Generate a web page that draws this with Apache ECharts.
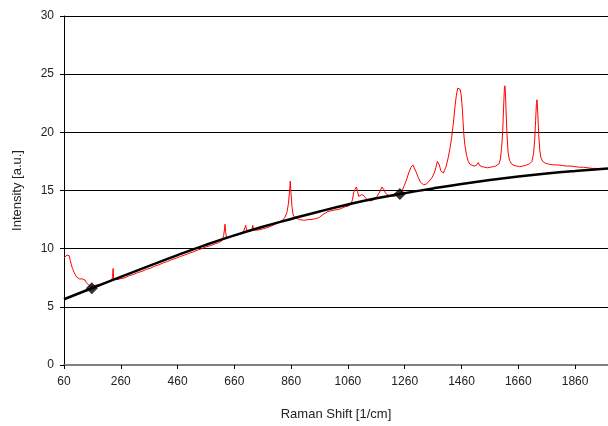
<!DOCTYPE html>
<html>
<head>
<meta charset="utf-8">
<script src="https://cdn.jsdelivr.net/npm/echarts@6/dist/echarts.min.js"></script>
<style>
  html, body { margin: 0; padding: 0; background: #fff; }
  #main { width: 608px; height: 426px; }
</style>
</head>
<body>
<div id="main"></div>
<script type="text/javascript">
// measured spectrum (red)
var spectrumX = [60, 63, 66, 70, 74, 78, 82, 86, 90, 95, 100, 105, 110, 115, 120, 125, 130, 134, 138, 143, 148, 153, 158, 164, 170, 180, 190, 200, 210, 220, 228, 231, 233, 235, 240, 250, 260, 275, 290, 305, 320, 335, 350, 365, 380, 395, 410, 425, 440, 455, 470, 485, 500, 515, 530, 545, 560, 575, 590, 605, 616, 622, 625, 627, 629, 632, 640, 650, 660, 670, 680, 690, 697, 700, 703, 710, 718, 722, 725, 728, 735, 745, 760, 775, 790, 805, 820, 830, 838, 845, 850, 854, 857, 860, 863, 867, 872, 880, 890, 900, 910, 920, 930, 940, 950, 960, 970, 980, 990, 1000, 1010, 1020, 1030, 1040, 1050, 1060, 1070, 1076, 1080, 1085, 1090, 1094, 1098, 1104, 1110, 1114, 1118, 1124, 1132, 1140, 1150, 1160, 1168, 1174, 1180, 1186, 1192, 1200, 1210, 1220, 1230, 1243, 1250, 1258, 1266, 1274, 1282, 1289, 1294, 1300, 1308, 1316, 1326, 1336, 1346, 1356, 1364, 1370, 1375, 1378, 1382, 1387, 1392, 1396, 1405, 1413, 1420, 1425, 1431, 1437, 1442, 1447, 1451, 1455, 1459, 1463, 1466, 1469, 1472, 1478, 1484, 1490, 1496, 1504, 1512, 1519, 1524, 1532, 1542, 1552, 1562, 1572, 1580, 1585, 1592, 1597, 1601, 1605, 1608, 1611, 1613, 1615, 1617, 1620, 1624, 1629, 1636, 1645, 1655, 1665, 1675, 1685, 1690, 1700, 1708, 1714, 1718, 1721, 1724, 1726, 1729, 1732, 1736, 1740, 1746, 1755, 1770, 1785, 1800, 1815, 1830, 1845, 1860, 1875, 1890, 1905, 1920, 1935, 1950, 1965, 1976];
var spectrumY = [9.2, 9.1, 9.35, 9.45, 9.3, 9.4, 9.0, 8.6, 8.3, 8.0, 7.75, 7.55, 7.45, 7.4, 7.35, 7.4, 7.45, 7.3, 7.1, 6.95, 6.85, 6.8, 6.75, 6.8, 6.85, 6.9, 6.95, 7.0, 7.1, 7.2, 7.25, 7.6, 8.3, 7.35, 7.3, 7.35, 7.42, 7.5, 7.68, 7.78, 7.95, 8.05, 8.22, 8.33, 8.5, 8.62, 8.78, 8.9, 9.07, 9.18, 9.33, 9.45, 9.6, 9.72, 9.87, 10.0, 10.15, 10.25, 10.4, 10.52, 10.68, 11.1, 11.6, 12.1, 11.5, 11.0, 10.95, 11.05, 11.1, 11.2, 11.3, 11.35, 11.45, 12.0, 11.6, 11.45, 11.5, 11.7, 12.0, 11.6, 11.55, 11.6, 11.7, 11.8, 11.95, 12.1, 12.3, 12.45, 12.7, 13.1, 13.8, 14.8, 15.8, 14.6, 13.6, 12.9, 12.7, 12.6, 12.5, 12.45, 12.45, 12.5, 12.5, 12.55, 12.6, 12.7, 12.9, 13.05, 13.2, 13.25, 13.3, 13.35, 13.4, 13.5, 13.6, 13.65, 13.8, 14.2, 14.8, 15.1, 15.3, 14.9, 14.5, 14.4, 14.65, 14.7, 14.5, 14.3, 14.15, 14.1, 14.2, 14.4, 14.7, 15.0, 15.3, 15.1, 14.8, 14.6, 14.55, 14.5, 14.55, 14.7, 14.95, 15.4, 15.9, 16.5, 17.0, 17.2, 17.1, 16.6, 16.1, 15.7, 15.5, 15.55, 15.8, 16.1, 16.5, 17.0, 17.5, 17.65, 17.2, 16.7, 16.55, 16.5, 17.0, 17.8, 18.7, 19.5, 20.7, 22.2, 23.2, 23.8, 23.9, 23.7, 23.2, 22.0, 20.7, 19.6, 18.9, 18.0, 17.5, 17.25, 17.1, 17.1, 17.15, 17.4, 17.15, 17.05, 17.0, 16.95, 17.0, 17.05, 17.1, 17.15, 17.3, 17.7, 18.6, 20.0, 22.0, 23.7, 24.0, 23.3, 21.8, 19.9, 18.3, 17.6, 17.3, 17.15, 17.1, 17.05, 17.1, 17.15, 17.2, 17.3, 17.5, 18.2, 19.4, 21.0, 22.5, 22.8, 21.5, 19.8, 18.4, 17.8, 17.5, 17.35, 17.25, 17.2, 17.2, 17.15, 17.1, 17.1, 17.05, 17.0, 17.0, 16.95, 16.9, 16.9, 16.85, 16.85, 16.9];

// fitted background (black)
var baselineX = [60, 160, 260, 360, 460, 560, 660, 760, 860, 960, 1060, 1160, 1243, 1360, 1460, 1560, 1660, 1760, 1860, 1976];
var baselineY = [5.65, 6.62, 7.58, 8.52, 9.45, 10.33, 11.14, 11.88, 12.55, 13.2, 13.8, 14.33, 14.7, 15.18, 15.56, 15.9, 16.2, 16.46, 16.68, 16.9];

// anchor points (diamonds)
var anchorX = [158, 1243];
var anchorY = [6.6, 14.7];

function zip(xs, ys) {
    var out = [];
    for (var i = 0; i < xs.length; i++) out.push([xs[i], ys[i]]);
    return out;
}

var myChart = echarts.init(document.getElementById('main'));
myChart.setOption({
    animation: false,
    grid: { left: 64, right: 0, top: 16, bottom: 60 },
    xAxis: {
        type: 'value',
        min: 60,
        max: 1976,
        interval: 200,
        name: 'Raman Shift [1/cm]',
        nameLocation: 'middle',
        nameGap: 43,
        nameTextStyle: { fontFamily: 'Liberation Sans', fontSize: 13, color: '#222' },
        axisLine: { lineStyle: { color: '#808080', width: 2 } },
        axisTick: { show: true, length: 4, lineStyle: { color: '#000' } },
        axisLabel: {
            margin: 11,
            fontFamily: 'Liberation Sans', fontSize: 12, color: '#222',
            showMaxLabel: false,
            formatter: function (v) { return ((v - 60) % 200 === 0) ? String(v) : ''; }
        },
        splitLine: { show: false }
    },
    yAxis: {
        type: 'value',
        min: 0,
        max: 30,
        interval: 5,
        name: 'Intensity [a.u.]',
        nameLocation: 'middle',
        nameGap: 40,
        nameTextStyle: { fontFamily: 'Liberation Sans', fontSize: 13, color: '#222' },
        axisLine: { show: true, lineStyle: { color: '#000', width: 1 } },
        axisTick: { show: true, length: 4, lineStyle: { color: '#000' } },
        axisLabel: { margin: 10, fontFamily: 'Liberation Sans', fontSize: 12, color: '#222' },
        splitLine: { show: true, lineStyle: { color: '#000', width: 1 } }
    },
    series: [
        {
            type: 'line',
            data: zip(spectrumX, spectrumY),
            showSymbol: false,
            lineStyle: { color: '#ff0000', width: 1 },
            z: 2
        },
        {
            type: 'line',
            data: zip(baselineX, baselineY),
            smooth: true,
            showSymbol: false,
            lineStyle: { color: '#000', width: 2.5 },
            z: 3
        },
        {
            type: 'scatter',
            data: zip(anchorX, anchorY),
            symbol: 'diamond',
            symbolSize: 12,
            itemStyle: { color: '#000' },
            z: 4
        }
    ]
});
</script>
</body>
</html>
